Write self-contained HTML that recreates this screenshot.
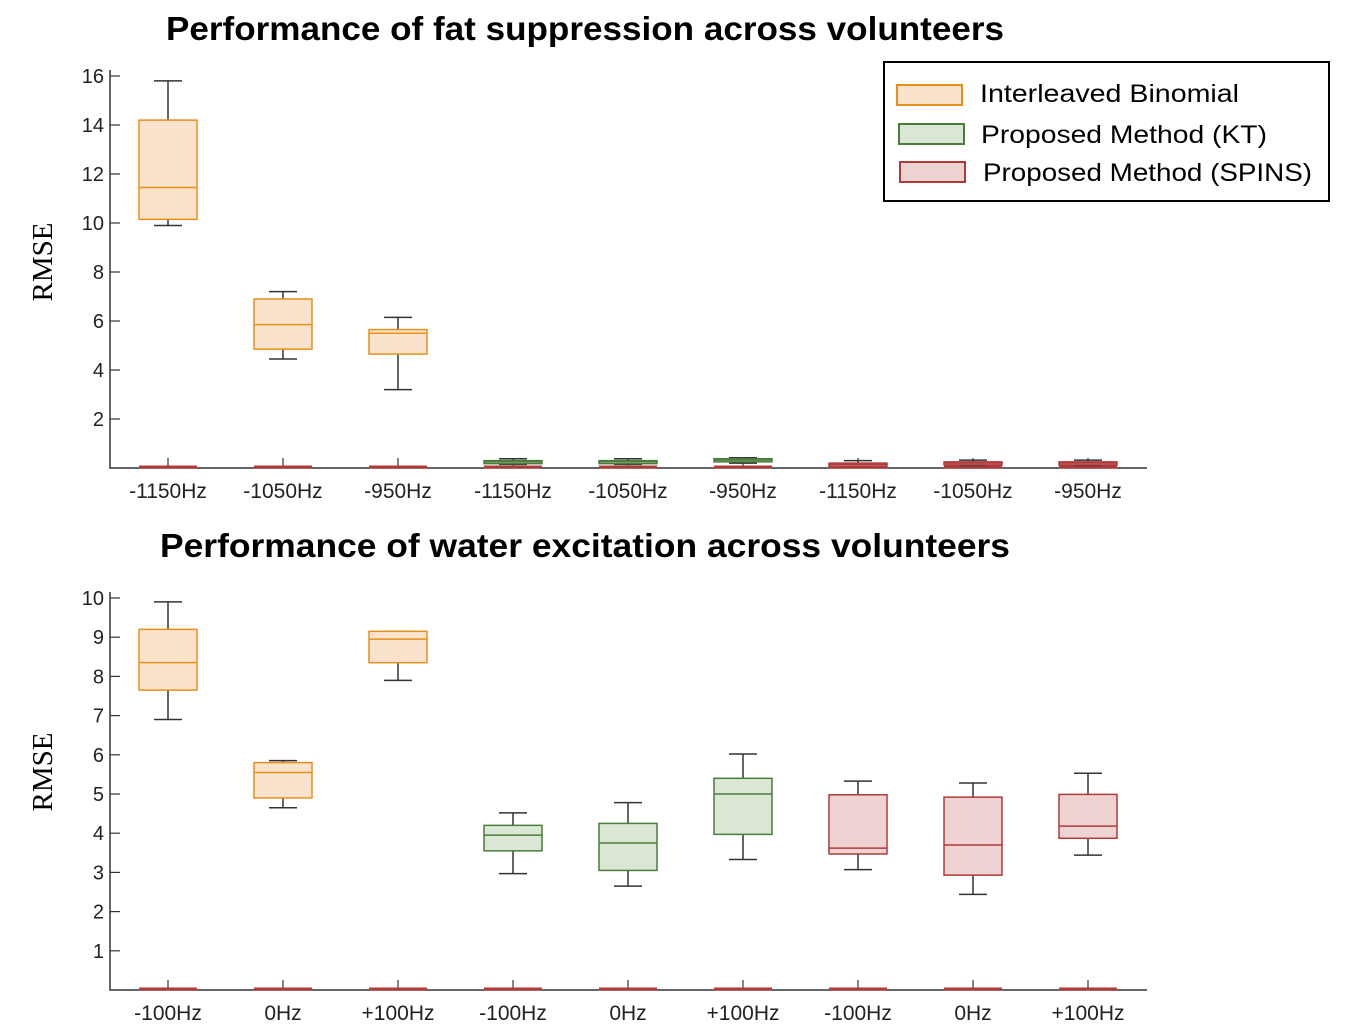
<!DOCTYPE html>
<html><head><meta charset="utf-8"><style>
html,body{margin:0;padding:0;background:#fff;}
svg{display:block;font-family:"Liberation Sans",sans-serif;}
</style></head><body>
<svg id="chart" width="1363" height="1031" viewBox="0 0 1363 1031" xmlns="http://www.w3.org/2000/svg">
<text x="166" y="40" font-size="33" font-weight="bold" textLength="838" lengthAdjust="spacingAndGlyphs" fill="#000">Performance of fat suppression across volunteers</text>
<text x="160" y="557" font-size="33" font-weight="bold" textLength="850" lengthAdjust="spacingAndGlyphs" fill="#000">Performance of water excitation across volunteers</text>
<text transform="translate(52,262) rotate(-90)" font-family="'Liberation Serif',serif" font-size="29" text-anchor="middle">RMSE</text>
<text transform="translate(52,772) rotate(-90)" font-family="'Liberation Serif',serif" font-size="29" text-anchor="middle">RMSE</text>
<g id="top"></g><g id="bot"></g>
<g>
<rect x="884" y="62" width="445" height="139" fill="#fff" stroke="#000" stroke-width="2"/>
<rect x="897" y="85" width="65" height="20" fill="#fae3cc" stroke="#e8901c" stroke-width="2"/>
<text x="980" y="102" font-size="25" textLength="259" lengthAdjust="spacingAndGlyphs">Interleaved Binomial</text>
<rect x="899" y="124" width="65" height="20" fill="#dbe7d5" stroke="#4a7c3b" stroke-width="2"/>
<text x="981" y="143" font-size="25" textLength="286" lengthAdjust="spacingAndGlyphs">Proposed Method (KT)</text>
<rect x="900" y="162" width="65" height="20" fill="#efd3d3" stroke="#b03a3a" stroke-width="2"/>
<text x="983" y="181" font-size="25" textLength="329" lengthAdjust="spacingAndGlyphs">Proposed Method (SPINS)</text>
</g>
</svg>
<script>
const topCategories=["-1150Hz","-1050Hz","-950Hz","-1150Hz","-1050Hz","-950Hz","-1150Hz","-1050Hz","-950Hz"];
const topGroups=[0,0,0,1,1,1,2,2,2];
const topWhiskLow=[9.9,4.45,3.2,0.15,0.15,0.2,0.08,0.1,0.1];
const topQ1=[10.15,4.85,4.65,0.2,0.2,0.25,0.1,0.15,0.15];
const topMedian=[11.45,5.85,5.5,0.25,0.25,0.32,0.15,0.2,0.2];
const topQ3=[14.2,6.9,5.65,0.3,0.3,0.38,0.2,0.25,0.25];
const topWhiskHigh=[15.8,7.2,6.15,0.38,0.38,0.42,0.3,0.32,0.32];
const topTicks=[2,4,6,8,10,12,14,16];
const botCategories=["-100Hz","0Hz","+100Hz","-100Hz","0Hz","+100Hz","-100Hz","0Hz","+100Hz"];
const botGroups=[0,0,0,1,1,1,2,2,2];
const botWhiskLow=[6.9,4.65,7.9,2.97,2.65,3.33,3.07,2.44,3.44];
const botQ1=[7.65,4.9,8.35,3.55,3.05,3.97,3.47,2.93,3.87];
const botMedian=[8.35,5.55,8.95,3.95,3.75,5.0,3.62,3.7,4.18];
const botQ3=[9.2,5.8,9.15,4.2,4.25,5.4,4.98,4.92,4.99];
const botWhiskHigh=[9.9,5.85,9.15,4.52,4.78,6.02,5.33,5.28,5.53];
const botTicks=[1,2,3,4,5,6,7,8,9,10];
const strokes=["#e8901c","#4a7c3b","#b03a3a"];
const fills=["#fae3cc","#dbe7d5","#efd3d3"];
const NS="http://www.w3.org/2000/svg";
function mk(parent,tag,attrs){const e=document.createElementNS(NS,tag);for(const k in attrs)e.setAttribute(k,attrs[k]);parent.appendChild(e);return e;}
function draw(gid,cfg){
  const g=document.getElementById(gid);
  const y=v=>cfg.y0-v*cfg.unit;
  const x=i=>168+i*115;
  const ax=mk(g,'path',{d:`M110 ${cfg.top} V${cfg.y0} H1147`,stroke:'#333',fill:'none','stroke-width':1.5});
  
  
  cfg.ticks.forEach(t=>{
    const l=mk(g,'line',{x1:110,x2:120,y1:y(t),y2:y(t),stroke:'#333','stroke-width':1.2});
    
    
    const tx=mk(g,'text',{x:104,y:y(t)+7,'font-size':20,'text-anchor':'end',fill:'#222'});
    tx.textContent=t;
    
    
  });
  cfg.cats.forEach((c,i)=>{
    const cx=x(i),gr=cfg.groups[i],w=58;
    const tk=mk(g,'line',{x1:cx,x2:cx,y1:cfg.y0,y2:cfg.y0-10,stroke:'#333','stroke-width':1.2});
    
    
    const zb=mk(g,'rect',{x:cx-29,y:cfg.y0-2.5,width:58,height:3,fill:'#b03a3a'});
    
    
    const bg=mk(g,'g',{});
    
    
    mk(bg,'line',{x1:cx,x2:cx,y1:y(cfg.lo[i]),y2:y(cfg.hi[i]),stroke:'#333','stroke-width':1.5});
    mk(bg,'line',{x1:cx-14,x2:cx+14,y1:y(cfg.lo[i]),y2:y(cfg.lo[i]),stroke:'#333','stroke-width':1.5});
    mk(bg,'line',{x1:cx-14,x2:cx+14,y1:y(cfg.hi[i]),y2:y(cfg.hi[i]),stroke:'#333','stroke-width':1.5});
    const h=Math.max(y(cfg.q1[i])-y(cfg.q3[i]),3);
    mk(bg,'rect',{x:cx-w/2,y:y(cfg.q3[i]),width:w,height:h,fill:fills[gr],stroke:strokes[gr],'stroke-width':1.5});
    mk(bg,'line',{x1:cx-w/2,x2:cx+w/2,y1:y(cfg.med[i]),y2:y(cfg.med[i]),stroke:strokes[gr],'stroke-width':1.5});
    const lb=mk(g,'text',{x:cx,y:cfg.y0+30,'font-size':21,'text-anchor':'middle',fill:'#222'});
    lb.textContent=c;
    
    
  });
}
draw('top',{y0:468,unit:24.5,top:70,cats:topCategories,groups:topGroups,lo:topWhiskLow,q1:topQ1,med:topMedian,q3:topQ3,hi:topWhiskHigh,ticks:topTicks});
draw('bot',{y0:990,unit:39.2,top:592,cats:botCategories,groups:botGroups,lo:botWhiskLow,q1:botQ1,med:botMedian,q3:botQ3,hi:botWhiskHigh,ticks:botTicks});
</script>
</body></html>
